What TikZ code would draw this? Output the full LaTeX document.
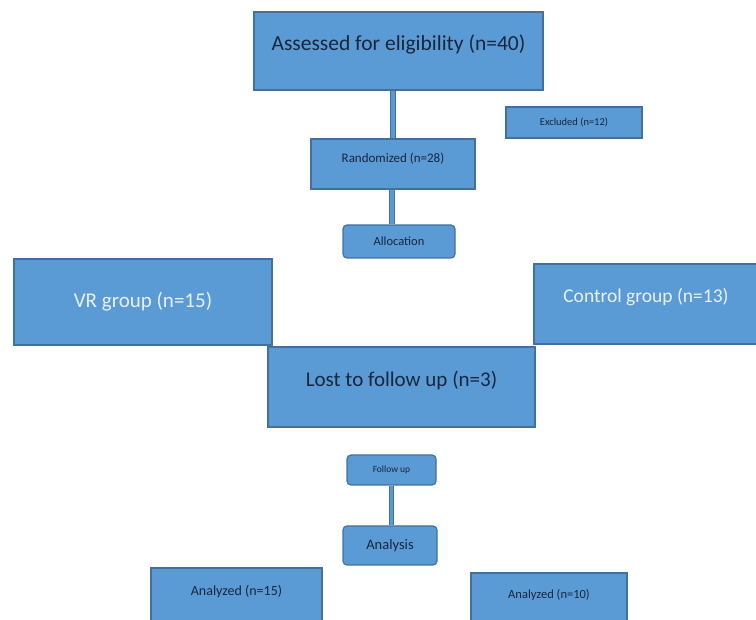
\documentclass[tikz,border=0pt]{standalone}
\usepackage{fontspec}
\setmainfont{Carlito}
\definecolor{boxfill}{RGB}{91,155,213}
\definecolor{boxedge}{RGB}{65,113,156}
\definecolor{darktext}{RGB}{24,38,62}
\definecolor{lighttext}{RGB}{232,240,250}
\tikzset{
  box/.style={rectangle,fill=boxfill,draw=boxedge,line width=1.2pt,inner sep=0pt,text=darktext,align=center},
  roundbox/.style={box,rounded corners=4pt},
  lift/.style={text depth=#1},
  conn/.style={draw=boxedge,line width=0.9pt,double=boxfill,double distance=3.6pt}
}
\begin{document}
\begin{tikzpicture}[x=1pt,y=-1pt]
 \useasboundingbox (0,0) rectangle (756,620);
 \clip (0,0) rectangle (756,620);
 \node[box,minimum width=289pt,minimum height=78pt,lift=16pt,font=\fontsize{21.5}{24}\selectfont] (assess) at (398.5,51) {Assessed for eligibility (n=40)};
 \node[box,minimum width=136pt,minimum height=31pt,font=\fontsize{10.5}{12}\selectfont] (excl) at (574,122.5) {Excluded (n=12)};
 \node[box,minimum width=164pt,minimum height=50pt,lift=12pt,font=\fontsize{13}{15}\selectfont] (rand) at (393,164) {Randomized (n=28)};
 \node[roundbox,minimum width=112pt,minimum height=33pt,font=\fontsize{12.5}{14}\selectfont] (alloc) at (399,241.5) {Allocation};
 \node[box,minimum width=258pt,minimum height=86pt,text=lighttext,font=\fontsize{21}{24}\selectfont] (vr) at (143,302) {VR group (n=15)};
 \node[box,minimum width=224pt,minimum height=80pt,lift=18pt,text=lighttext,font=\fontsize{19.5}{22}\selectfont] (ctrl) at (646,304) {Control group (n=13)};
 \node[box,minimum width=267pt,minimum height=80pt,lift=16pt,font=\fontsize{21}{24}\selectfont] (lost) at (401.5,387) {Lost to follow up (n=3)};
 \node[roundbox,minimum width=89pt,minimum height=30pt,font=\fontsize{9.5}{11}\selectfont] (follow) at (391.5,470) {Follow up};
 \node[roundbox,minimum width=94pt,minimum height=39pt,font=\fontsize{14.5}{16}\selectfont] (analysis) at (390,545.5) {Analysis};
 \node[box,minimum width=171pt,minimum height=56pt,lift=11pt,font=\fontsize{14}{16}\selectfont] (an15) at (236.5,596) {Analyzed (n=15)};
 \node[box,minimum width=156pt,minimum height=52pt,lift=10pt,font=\fontsize{12.5}{14}\selectfont] (an10) at (549,599) {Analyzed (n=10)};
 \draw[conn] (assess.south -| rand.center) -- (rand.north);
 \draw[conn] ([xshift=-1pt]rand.south) -- ([xshift=-1pt]rand.south |- alloc.north);
 \draw[conn] (follow.south) -- (follow.south |- analysis.north);
\end{tikzpicture}
\end{document}
